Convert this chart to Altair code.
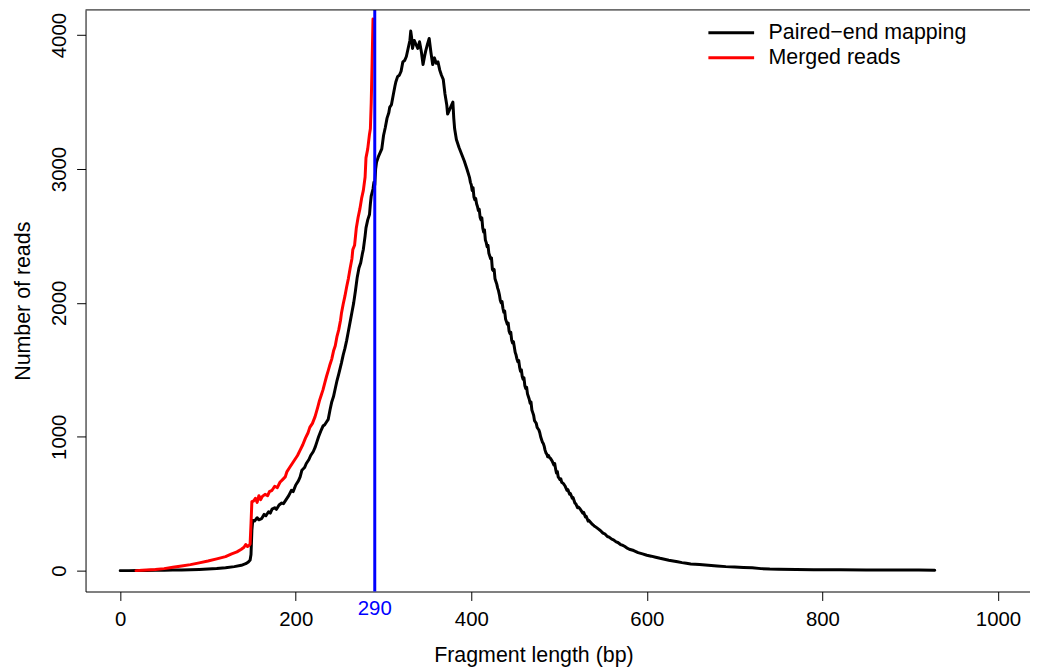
import altair as alt
import pandas as pd

series_names = ["Paired\u2212end mapping", "Merged reads"]
series_colors = ["#000000", "#FF0000"]

# (fragment length bp, number of reads)
paired_end = [
    (0, 0), (10, 0), (20, 1), (30, 1), (40, 2), (50, 3), (60, 4), (70, 5), (80, 7), (90, 9),
    (100, 12), (110, 16), (120, 22), (130, 30), (138, 40), (143, 52), (146, 65), (148, 80),
    (149, 120), (150, 300), (151, 375), (153, 370), (156, 395), (158, 380), (161, 388),
    (164, 420), (166, 410), (169, 440), (171, 430), (173, 460), (176, 470), (178, 458),
    (181, 490), (184, 505), (186, 500), (189, 530), (192, 560), (195, 600), (197, 590),
    (200, 640), (203, 670), (205, 700), (207, 750), (210, 770), (212, 800), (215, 830),
    (217, 860), (220, 890), (222, 920), (224, 960), (226, 1000), (229, 1050), (231, 1080),
    (233, 1090), (235, 1110), (237, 1130), (239, 1200), (241, 1260), (243, 1300), (245, 1360),
    (247, 1420), (249, 1470), (252, 1550), (254, 1610), (256, 1660), (258, 1720), (260, 1790),
    (262, 1860), (264, 1930), (266, 2000), (268, 2090), (270, 2190), (272, 2260), (274, 2300),
    (276, 2370), (277, 2400), (279, 2500), (280, 2560), (282, 2620), (284, 2660), (285, 2740),
    (286, 2800), (288, 2850), (289, 2900), (290, 2880), (291, 3000), (292, 3050), (294, 3090),
    (296, 3120), (298, 3150), (300, 3250), (302, 3310), (304, 3380), (306, 3420), (307, 3460),
    (309, 3480), (311, 3550), (313, 3620), (314, 3650), (316, 3690), (318, 3700), (320, 3730),
    (322, 3800), (324, 3810), (326, 3840), (328, 3900), (330, 3960), (331, 4030), (332, 3980),
    (333, 3900), (335, 3960), (337, 3930), (339, 3900), (341, 3950), (343, 3880), (345, 3780),
    (347, 3850), (348, 3880), (350, 3930), (352, 3975), (354, 3870), (356, 3780), (358, 3830),
    (360, 3790), (362, 3800), (364, 3740), (366, 3700), (368, 3670), (370, 3560), (372, 3480),
    (373, 3410), (375, 3440), (377, 3470), (379, 3500), (380, 3380), (381, 3300), (383, 3220),
    (386, 3160), (389, 3110), (392, 3060), (395, 3000), (398, 2935), (399, 2900), (400, 2880),
    (401, 2840), (402, 2860), (403, 2790), (404, 2770), (405, 2780), (406, 2740), (407, 2720),
    (408, 2690), (409, 2700), (410, 2640), (411, 2620), (412, 2635), (413, 2560), (414, 2530),
    (415, 2545), (416, 2470), (417, 2450), (418, 2420), (419, 2430), (420, 2370), (421, 2350),
    (422, 2330), (423, 2335), (424, 2250), (425, 2240), (426, 2250), (427, 2180), (428, 2160),
    (429, 2140), (430, 2110), (431, 2090), (432, 2060), (433, 2020), (434, 2000), (435, 2010),
    (436, 1960), (437, 1930), (438, 1940), (439, 1880), (440, 1860), (441, 1840), (442, 1850),
    (443, 1790), (444, 1770), (445, 1780), (446, 1720), (447, 1700), (448, 1710), (449, 1670),
    (450, 1630), (451, 1610), (452, 1580), (453, 1560), (454, 1570), (455, 1520), (456, 1490),
    (457, 1500), (458, 1450), (459, 1430), (460, 1440), (461, 1380), (462, 1360), (463, 1370),
    (464, 1320), (465, 1300), (466, 1280), (467, 1250), (468, 1260), (469, 1200), (470, 1180),
    (471, 1160), (472, 1120), (473, 1110), (474, 1100), (475, 1070), (476, 1060), (477, 1050),
    (478, 1030), (479, 1000), (480, 980), (481, 960), (482, 950), (483, 930), (484, 900),
    (485, 880), (486, 870), (487, 850), (488, 860), (489, 845), (490, 840), (492, 820),
    (494, 790), (495, 800), (496, 760), (497, 730), (498, 740), (499, 700), (500, 690),
    (501, 680), (502, 685), (503, 660), (505, 650), (506, 640), (507, 630), (509, 600),
    (510, 605), (512, 570), (513, 575), (515, 540), (516, 545), (518, 505), (519, 500),
    (521, 470), (522, 475), (524, 460), (525, 450), (527, 430), (528, 435), (530, 400),
    (531, 405), (533, 370), (534, 375), (536, 360), (538, 345), (540, 334), (542, 325),
    (545, 310), (547, 300), (550, 280), (552, 275), (555, 255), (557, 250), (560, 235),
    (562, 230), (565, 215), (567, 210), (570, 195), (572, 190), (575, 180), (577, 170),
    (580, 160), (585, 150), (590, 135), (595, 125), (600, 115), (605, 108), (610, 100),
    (615, 92), (620, 85), (625, 78), (630, 72), (635, 66), (640, 60), (645, 55), (650, 50),
    (660, 45), (670, 40), (680, 35), (690, 30), (700, 27), (710, 24), (720, 22), (730, 15),
    (740, 12), (750, 11), (770, 9), (790, 7), (820, 6), (850, 5), (880, 4), (910, 4), (928, 3),
]

merged_reads = [
    (18, 0), (25, 2), (30, 4), (40, 8), (50, 15), (60, 25), (70, 35), (80, 45), (90, 58),
    (100, 72), (110, 88), (120, 105), (127, 125), (133, 140), (138, 160), (141, 175), (143, 195),
    (145, 180), (147, 190), (148, 200), (149, 350), (150, 515), (152, 520), (154, 540), (156, 510),
    (158, 560), (160, 530), (162, 555), (165, 570), (168, 560), (170, 590), (173, 600), (176, 630),
    (179, 620), (182, 660), (185, 680), (188, 700), (190, 740), (193, 770), (196, 800), (199, 830),
    (202, 860), (205, 900), (208, 940), (211, 990), (214, 1030), (216, 1070), (219, 1100),
    (222, 1150), (225, 1220), (227, 1270), (229, 1310), (231, 1350), (233, 1400), (235, 1450),
    (237, 1494), (239, 1540), (241, 1580), (243, 1640), (245, 1680), (247, 1750), (249, 1800),
    (251, 1870), (252, 1920), (254, 1990), (256, 2050), (258, 2120), (260, 2183), (262, 2260),
    (264, 2330), (265, 2398), (267, 2430), (269, 2560), (271, 2638), (273, 2700), (275, 2780),
    (277, 2840), (279, 2940), (280, 3083), (282, 3150), (284, 3260), (285, 3300), (286, 3500),
    (287, 3800), (288, 4120),
]

cutoff_bp = [290]
x_ticks = [0, 200, 400, 600, 800, 1000]
y_ticks = [0, 1000, 2000, 3000, 4000]

W, H = 950, 585
FONT = "Liberation Sans"
LW = 3

pe_df = pd.DataFrame(paired_end, columns=["length", "reads"])
pe_df["series"] = series_names[0]
mr_df = pd.DataFrame(merged_reads, columns=["length", "reads"])
mr_df["series"] = series_names[1]
cut_df = pd.DataFrame({"length": cutoff_bp, "label": [str(v) for v in cutoff_bp]})

xscale = alt.Scale(domain=[-39.5, 1036.5], nice=False, zero=False)
yscale = alt.Scale(domain=[-156, 4188], nice=False, zero=False)

color = alt.Color(
    "series:N",
    scale=alt.Scale(domain=series_names, range=series_colors),
    legend=alt.Legend(
        title=None, orient="none", legendX=625, legendY=10.5,
        symbolType="stroke", symbolSize=2116, symbolStrokeWidth=LW,
        labelFontSize=21.5, labelFont=FONT, labelColor="black", labelOffset=13,
        labelLimit=0, padding=0, rowPadding=0, clipHeight=25,
    ),
)

xaxis = alt.Axis(
    values=x_ticks, format="d", title="Fragment length (bp)", grid=False,
    tickSize=9, tickColor="black", tickWidth=1, domainColor="black", domainWidth=1,
    labelFontSize=20.5, labelColor="black", labelPadding=25, labelBaseline="alphabetic",
    labelFlush=False, labelOverlap=False,
    titleFontSize=21.5, titleFontWeight="normal", titleColor="black",
    titleX=450.5, titleY=70, titleAlign="center", titleBaseline="alphabetic",
)
yaxis = alt.Axis(
    values=y_ticks, format="d", title="Number of reads", grid=False,
    tickSize=9, tickColor="black", tickWidth=1, domainColor="black", domainWidth=1,
    labelFontSize=20.5, labelColor="black", labelAngle=270, labelAlign="center",
    labelBaseline="alphabetic", labelPadding=11, labelFlush=False, labelOverlap=False,
    titleFontSize=21.5, titleFontWeight="normal", titleColor="black", titleAngle=270,
    titleX=-56, titleY=292.5, titleAlign="center", titleBaseline="alphabetic",
)

black = alt.Chart(pe_df).mark_line(strokeWidth=LW, strokeJoin="round", strokeCap="round").encode(
    x=alt.X("length:Q", scale=xscale, axis=xaxis),
    y=alt.Y("reads:Q", scale=yscale, axis=yaxis),
    color=color,
)
red = alt.Chart(mr_df).mark_line(strokeWidth=LW, strokeJoin="round", strokeCap="round").encode(
    x=alt.X("length:Q", scale=xscale),
    y=alt.Y("reads:Q", scale=yscale),
    color=color,
)
vline = alt.Chart(cut_df).mark_rule(color="#0000FF", strokeWidth=LW).encode(
    x=alt.X("length:Q", scale=xscale)
)
vlabel = alt.Chart(cut_df).mark_text(
    color="#0000FF", fontSize=20.5, font=FONT, align="center", baseline="alphabetic"
).encode(
    x=alt.X("length:Q", scale=xscale),
    y=alt.value(609),
    text="label:N",
)
topline = alt.Chart(cut_df).mark_rule(color="black", strokeWidth=1).encode(
    x=alt.value(0), x2=alt.value(W), y=alt.value(0)
)

chart = (
    alt.layer(black, red, vline, vlabel, topline)
    .properties(
        width=W, height=H,
        autosize=alt.AutoSizeParams(type="none"),
        padding={"left": 78, "top": 0, "right": 0, "bottom": 77},
        background="white",
    )
    .configure(font=FONT)
    .configure_view(stroke="transparent")
)

chart.save("out.html", embed_options={"renderer": "svg", "actions": False})
